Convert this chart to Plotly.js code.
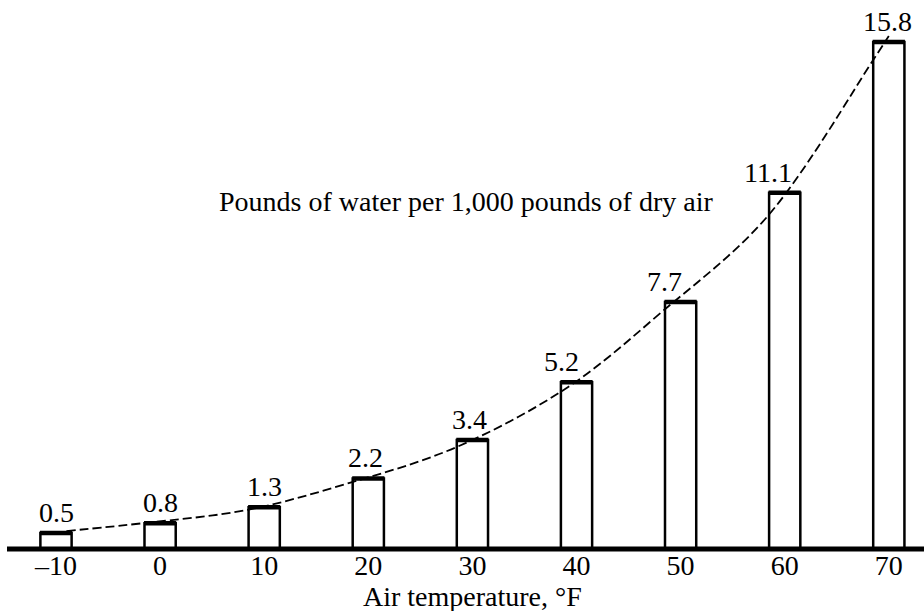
<!DOCTYPE html>
<html>
<head>
<meta charset="utf-8">
<script src="https://cdn.plot.ly/plotly-3.0.1.min.js"></script>
<style>html,body{margin:0;padding:0;background:#fff;}#chart{width:924px;height:611px;}</style>
</head>
<body>
<div id="chart"></div>
<script>
// Data
const temperatures = [-10, 0, 10, 20, 30, 40, 50, 60, 70];
const waterPerThousand = [0.5, 0.8, 1.3, 2.2, 3.4, 5.2, 7.7, 11.1, 15.8];
const valueLabels = ["0.5", "0.8", "1.3", "2.2", "3.4", "5.2", "7.7", "11.1", "15.8"];
const tickLabels = ["\u201310", "0", "10", "20", "30", "40", "50", "60", "70"];
// Dashed trend curve
const curveTemp = [-9, -1.5, 8.4, 18.2, 28.5, 39.2, 48.2, 58.3, 68.5, 70];
const curveWater = [0.56, 0.81, 1.22, 2.06, 3.18, 5.05, 7.39, 10.35, 15.24, 15.99];

// Styling / layout constants
const FONT = "Liberation Serif";
const FS = 28;
const labelXShift = [0, 0, 0, -3, -3, -15, -16, -17, -1];

const bars = {
  type: "bar",
  x: temperatures,
  y: waterPerThousand,
  width: 3.0,
  marker: { color: "#ffffff", line: { color: "#000000", width: 2.5 } },
  hoverinfo: "skip"
};

const tops = {
  type: "scatter",
  mode: "markers",
  x: temperatures,
  y: waterPerThousand,
  marker: { symbol: "line-ew", size: 23, color: "#000", line: { color: "#000000", width: 4.5 } },
  hoverinfo: "skip",
  cliponaxis: false
};

const curve = {
  type: "scatter",
  mode: "lines",
  x: curveTemp,
  y: curveWater,
  line: { color: "#000000", width: 1.8, dash: "9px,4px", shape: "spline", smoothing: 1 },
  hoverinfo: "skip"
};

const annotations = temperatures.map((t, i) => ({
  x: t, y: waterPerThousand[i], xref: "x", yref: "y",
  text: valueLabels[i], showarrow: false,
  xanchor: "center", yanchor: "bottom", yshift: 3, xshift: labelXShift[i],
  font: { family: FONT, size: FS, color: "#000" }
}));

annotations.push({
  x: 5.46, y: 10.28, xref: "x", yref: "y",
  text: "Pounds of water per 1,000 pounds of dry air", showarrow: false,
  xanchor: "left", yanchor: "bottom",
  font: { family: FONT, size: FS, color: "#000" }
});

annotations.push({
  x: 30, y: 0, xref: "x", yref: "paper",
  text: "Air temperature, \u00b0F", showarrow: false,
  xanchor: "center", yanchor: "bottom", yshift: -65,
  font: { family: FONT, size: FS, color: "#000" }
});

const layout = {
  width: 924, height: 611,
  margin: { l: 0, r: 0, t: 0, b: 62 },
  paper_bgcolor: "#fff", plot_bgcolor: "#fff",
  showlegend: false,
  font: { family: FONT, color: "#000" },
  xaxis: {
    range: [-15.38, 73.38],
    tickvals: temperatures, ticktext: tickLabels,
    ticks: "", showgrid: false, zeroline: false, showline: false,
    ticklabelstandoff: -3,
    tickfont: { family: FONT, size: FS, color: "#000" },
    fixedrange: true
  },
  yaxis: {
    range: [0, 17.11],
    visible: false, showgrid: false, zeroline: false, fixedrange: true
  },
  shapes: [{
    type: "line", xref: "paper", yref: "paper",
    x0: 7 / 924, x1: 1, y0: 0, y1: 0,
    line: { color: "#000", width: 5 }, layer: "above"
  }],
  annotations: annotations
};

Plotly.newPlot("chart", [bars, curve, tops], layout, { displayModeBar: false, staticPlot: true });
</script>
</body>
</html>
